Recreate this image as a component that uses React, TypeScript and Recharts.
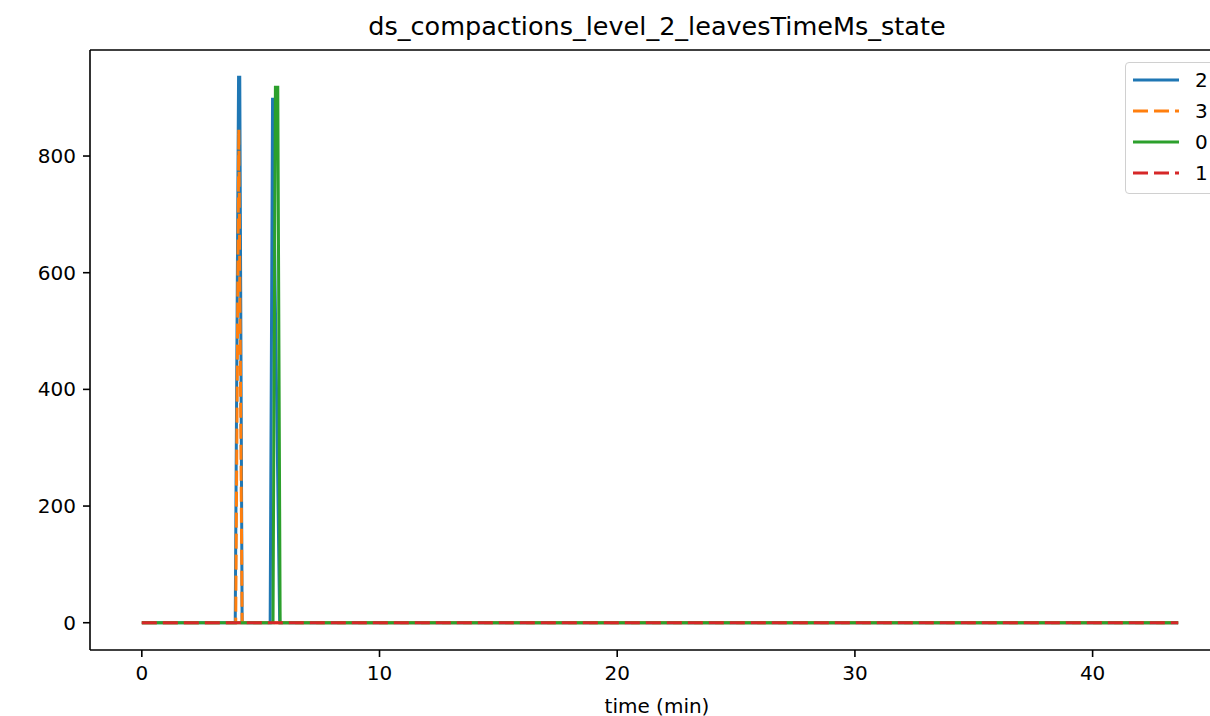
import { LineChart, Line, XAxis, YAxis, ReferenceLine, Legend } from 'recharts';

// series "2"
const s2Time = [0, 3.93, 4.07, 4.12, 4.22, 5.4, 5.5, 5.8, 43.6];
const s2Value = [0, 0, 935, 935, 0, 0, 900, 0, 0];
// series "3"
const s3Time = [0, 3.95, 4.08, 4.22, 43.6];
const s3Value = [0, 0, 846, 0, 0];
// series "0"
const s0Time = [0, 5.52, 5.62, 5.72, 5.82, 43.6];
const s0Value = [0, 0, 918, 918, 0, 0];
// series "1"
const s1Time = [0, 43.6];
const s1Value = [0, 0];

const xTicks = [0, 10, 20, 30, 40];
const yTicks = [0, 200, 400, 600, 800];

const X_MIN = -2.18;
const X_MAX = 45.78;
const Y_MIN = -46.75;
const Y_MAX = 981.75;

const toRows = (t: number[], v: number[]) => t.map((x, i) => ({ t: x, v: v[i] }));

const series = [
  { name: '2', color: '#1f77b4', dash: undefined, data: toRows(s2Time, s2Value) },
  { name: '3', color: '#ff7f0e', dash: '15 6', data: toRows(s3Time, s3Value) },
  { name: '0', color: '#2ca02c', dash: undefined, data: toRows(s0Time, s0Value) },
  { name: '1', color: '#d62728', dash: '15 6', data: toRows(s1Time, s1Value) },
];

const FONT = '"DejaVu Sans", sans-serif';

function LegendBox() {
  return (
    <div
      style={{
        position: 'absolute',
        left: 1125,
        top: 62,
        width: 110,
        height: 132,
        border: '1px solid #d0d0d0',
        borderRadius: 4,
        background: 'rgba(255,255,255,0.8)',
        boxSizing: 'border-box',
        fontFamily: FONT,
        fontSize: 20,
      }}
    >
      {series.map((s, i) => (
        <div key={s.name} style={{ position: 'absolute', left: 0, top: 4 + i * 31, height: 26, display: 'flex', alignItems: 'center' }}>
          <svg width={60} height={26} style={{ display: 'block' }}>
            <line x1={7} x2={53} y1={13} y2={13} stroke={s.color} strokeWidth={3} strokeDasharray={s.dash} />
          </svg>
          <span style={{ marginLeft: 9, lineHeight: '26px' }}>{s.name}</span>
        </div>
      ))}
    </div>
  );
}

export default function App() {
  return (
    <div style={{ position: 'fixed', left: 0, top: 0, width: 1210, height: 716, overflow: 'hidden', background: '#fff' }}>
      <div style={{ position: 'absolute', left: 0, top: 11, width: 1314, textAlign: 'center', fontFamily: FONT, fontSize: 25.5, lineHeight: '30px' }}>
        ds_compactions_level_2_leavesTimeMs_state
      </div>
      <LineChart
        width={1240}
        height={716}
        margin={{ top: 50, right: 10, bottom: 0, left: 0 }}
        style={{ position: 'absolute', left: 0, top: 0 }}
      >
        <XAxis
          dataKey="t"
          type="number"
          domain={[X_MIN, X_MAX]}
          ticks={xTicks}
          allowDataOverflow
          height={66}
          tickSize={7}
          tickMargin={9}
          stroke="#000"
          tick={{ fill: '#000', fontSize: 20, fontFamily: FONT }}
          tickLine={{ stroke: '#000', strokeWidth: 1.6 }}
          axisLine={{ stroke: '#000', strokeWidth: 1.6 }}
        />
        <YAxis
          dataKey="v"
          type="number"
          domain={[Y_MIN, Y_MAX]}
          ticks={yTicks}
          allowDataOverflow
          width={90}
          tickSize={7}
          tickMargin={7}
          stroke="#000"
          tick={{ fill: '#000', fontSize: 20, fontFamily: FONT }}
          tickLine={{ stroke: '#000', strokeWidth: 1.6 }}
          axisLine={{ stroke: '#000', strokeWidth: 1.6 }}
        />
        <ReferenceLine y={Y_MAX} stroke="#000" strokeWidth={1.6} ifOverflow="extendDomain" />
        <ReferenceLine x={X_MAX} stroke="#000" strokeWidth={1.6} ifOverflow="extendDomain" />
        {series.map((s) => (
          <Line
            key={s.name}
            data={s.data}
            dataKey="v"
            name={s.name}
            type="linear"
            stroke={s.color}
            strokeWidth={3}
            strokeDasharray={s.dash}
            dot={false}
            activeDot={false}
            isAnimationActive={false}
          />
        ))}
        <Legend content={() => null} />
      </LineChart>
      <LegendBox />
      <div style={{ position: 'absolute', left: 0, top: 693, width: 1314, textAlign: 'center', fontFamily: FONT, fontSize: 20, lineHeight: '26px' }}>
        time (min)
      </div>
    </div>
  );
}
